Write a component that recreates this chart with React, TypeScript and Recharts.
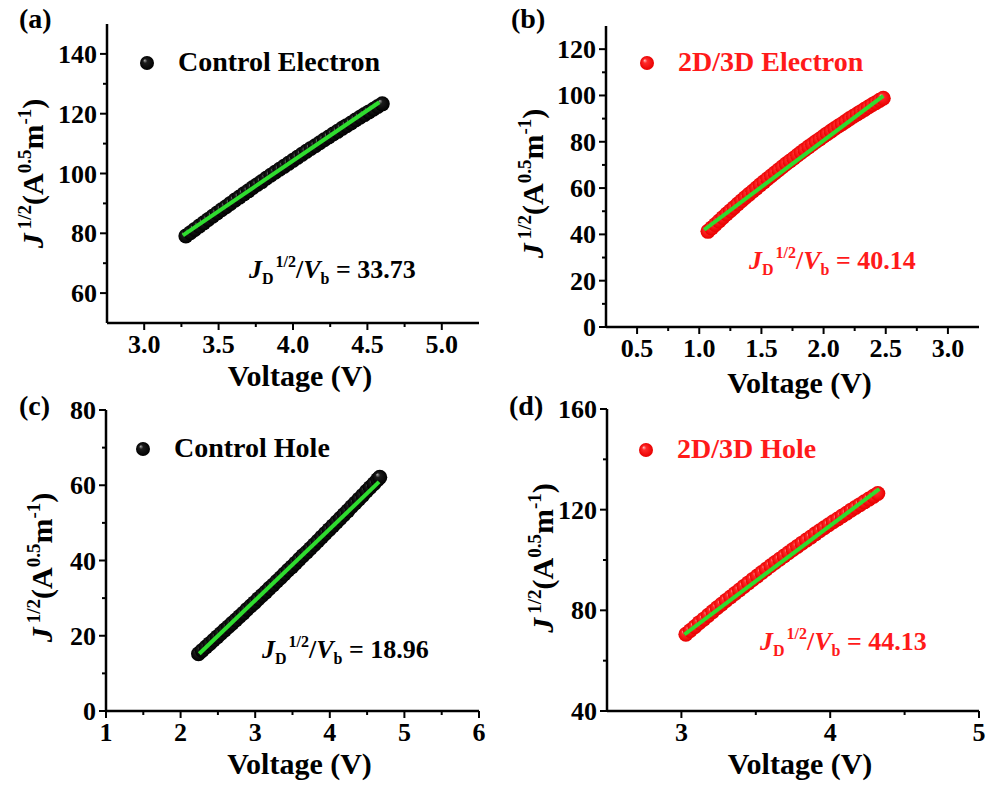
import React from "react";
import { ScatterChart, Scatter, XAxis, YAxis } from "recharts";

const SERIF = '"Liberation Serif", "Times New Roman", serif';
const GREEN = "#2fdc2f";
const RED = "#ff1a1a";
const AXIS = { stroke: "#000", strokeWidth: 2.5 };

// (a) control, electron-only device
const voltA = [3.28, 3.31, 3.34, 3.37, 3.4, 3.43, 3.46, 3.49, 3.52, 3.55, 3.58, 3.61, 3.64, 3.67, 3.7, 3.73, 3.76, 3.79, 3.82, 3.85, 3.88, 3.91, 3.94, 3.97, 4.0, 4.03, 4.06, 4.09, 4.12, 4.15, 4.18, 4.21, 4.24, 4.27, 4.3, 4.33, 4.36, 4.39, 4.42, 4.45, 4.48, 4.51, 4.54, 4.57, 4.6];
const jA = [79.1, 80.2, 81.3, 82.4, 83.5, 84.6, 85.7, 86.8, 87.9, 88.9, 90.0, 91.1, 92.1, 93.2, 94.2, 95.3, 96.3, 97.3, 98.4, 99.4, 100.4, 101.4, 102.4, 103.4, 104.4, 105.4, 106.4, 107.4, 108.4, 109.3, 110.3, 111.3, 112.2, 113.2, 114.1, 115.1, 116.0, 116.9, 117.9, 118.8, 119.7, 120.6, 121.5, 122.4, 123.3];

// (b) 2D/3D, electron-only device
const voltB = [1.07, 1.1, 1.13, 1.16, 1.19, 1.22, 1.25, 1.28, 1.31, 1.34, 1.37, 1.4, 1.43, 1.46, 1.49, 1.52, 1.55, 1.58, 1.61, 1.64, 1.67, 1.7, 1.73, 1.76, 1.79, 1.82, 1.85, 1.88, 1.91, 1.94, 1.97, 2.0, 2.03, 2.06, 2.09, 2.12, 2.15, 2.18, 2.21, 2.24, 2.27, 2.3, 2.33, 2.36, 2.39, 2.42, 2.45, 2.48];
const jB = [41.3, 42.8, 44.3, 45.8, 47.3, 48.8, 50.2, 51.6, 53.1, 54.5, 55.9, 57.3, 58.6, 60.0, 61.4, 62.7, 64.0, 65.3, 66.6, 67.9, 69.2, 70.5, 71.7, 72.9, 74.2, 75.4, 76.6, 77.8, 78.9, 80.1, 81.2, 82.4, 83.5, 84.6, 85.7, 86.8, 87.8, 88.9, 90.0, 91.0, 92.0, 93.0, 94.0, 95.0, 96.0, 96.9, 97.9, 98.8];

// (c) control, hole-only device
const voltC = [2.24, 2.29, 2.34, 2.39, 2.44, 2.49, 2.54, 2.59, 2.64, 2.69, 2.74, 2.79, 2.84, 2.89, 2.94, 2.99, 3.04, 3.09, 3.14, 3.19, 3.24, 3.29, 3.34, 3.39, 3.44, 3.49, 3.54, 3.59, 3.64, 3.69, 3.74, 3.79, 3.84, 3.89, 3.94, 3.99, 4.04, 4.09, 4.14, 4.19, 4.24, 4.29, 4.34, 4.39, 4.44, 4.49, 4.54, 4.59, 4.64, 4.67];
const jC = [15.2, 16.1, 17.0, 17.9, 18.8, 19.7, 20.6, 21.5, 22.4, 23.3, 24.2, 25.1, 26.0, 27.0, 27.9, 28.8, 29.8, 30.7, 31.6, 32.6, 33.5, 34.5, 35.4, 36.4, 37.4, 38.3, 39.3, 40.3, 41.3, 42.2, 43.2, 44.2, 45.2, 46.2, 47.2, 48.2, 49.2, 50.2, 51.2, 52.2, 53.2, 54.3, 55.3, 56.3, 57.3, 58.4, 59.4, 60.4, 61.5, 62.1];

// (d) 2D/3D, hole-only device
const voltD = [3.03, 3.06, 3.09, 3.12, 3.15, 3.18, 3.21, 3.24, 3.27, 3.3, 3.33, 3.36, 3.39, 3.42, 3.45, 3.48, 3.51, 3.54, 3.57, 3.6, 3.63, 3.66, 3.69, 3.72, 3.75, 3.78, 3.81, 3.84, 3.87, 3.9, 3.93, 3.96, 3.99, 4.02, 4.05, 4.08, 4.11, 4.14, 4.17, 4.2, 4.23, 4.26, 4.29, 4.32];
const jD = [70.5, 72.0, 73.5, 75.1, 76.5, 78.0, 79.5, 81.0, 82.4, 83.9, 85.3, 86.7, 88.1, 89.5, 90.9, 92.3, 93.6, 95.0, 96.3, 97.7, 99.0, 100.3, 101.6, 102.9, 104.2, 105.4, 106.7, 107.9, 109.1, 110.4, 111.6, 112.8, 114.0, 115.2, 116.3, 117.5, 118.6, 119.8, 120.9, 122.0, 123.1, 124.2, 125.3, 126.4];

// linear fits: [start V, start J, end V, slope]
const fitA = [3.26, 79.3, 4.58, 33.73];
const fitB = [1.04, 42.0, 2.48, 40.14];
const fitC = [2.25, 15.2, 4.66, 18.96];
const fitD = [3.02, 70.4, 4.33, 44.13];

type Pt = { v: number; j: number };
const zip = (v: number[], j: number[]): Pt[] => v.map((x, i) => ({ v: x, j: j[i] }));
const fitLine = ([v0, j0, v1, k]: number[]): Pt[] => [
  { v: v0, j: j0 },
  { v: v1, j: j0 + k * (v1 - v0) },
];

type Panel = {
  tag: string;
  name: string;
  red: boolean;
  box: [number, number, number, number];
  xDomain: [number, number];
  yDomain: [number, number];
  xMajor: number[];
  xMinor: number[];
  yMajor: number[];
  yMinor: number[];
  xDigits: number;
  data: Pt[];
  fit: Pt[];
  slope: number;
  tagAt: [number, number];
  legendAt: [number, number];
  noteAt: [number, number];
  yTitle: [number, number];
  xTitleDy: number;
};

const panels: Panel[] = [
  {
    tag: "a", name: "Control Electron", red: false,
    box: [107, 24, 479, 323], xDomain: [2.75, 5.25], yDomain: [50, 150],
    xMajor: [3, 3.5, 4, 4.5, 5], xMinor: [3.25, 3.75, 4.25, 4.75],
    yMajor: [60, 80, 100, 120, 140], yMinor: [70, 90, 110, 130], xDigits: 1,
    data: zip(voltA, jA), fit: fitLine(fitA), slope: fitA[3],
    tagAt: [19, 28], legendAt: [147, 63], noteAt: [249, 278], yTitle: [-64, 0], xTitleDy: 63,
  },
  {
    tag: "b", name: "2D/3D Electron", red: true,
    box: [606, 26, 979, 327], xDomain: [0.25, 3.25], yDomain: [0, 130],
    xMajor: [0.5, 1, 1.5, 2, 2.5, 3], xMinor: [0.75, 1.25, 1.75, 2.25, 2.75],
    yMajor: [0, 20, 40, 60, 80, 100, 120], yMinor: [10, 30, 50, 70, 90, 110], xDigits: 1,
    data: zip(voltB, jB), fit: fitLine(fitB), slope: fitB[3],
    tagAt: [511, 28], legendAt: [647, 63], noteAt: [749, 269], yTitle: [-63, 7], xTitleDy: 66,
  },
  {
    tag: "c", name: "Control Hole", red: false,
    box: [106, 410, 479, 711], xDomain: [1, 6], yDomain: [0, 80],
    xMajor: [1, 2, 3, 4, 5, 6], xMinor: [1.5, 2.5, 3.5, 4.5, 5.5],
    yMajor: [0, 20, 40, 60, 80], yMinor: [10, 30, 50, 70], xDigits: 0,
    data: zip(voltC, jC), fit: fitLine(fitC), slope: fitC[3],
    tagAt: [19, 415], legendAt: [143, 449], noteAt: [262, 658], yTitle: [-54, 7], xTitleDy: 63,
  },
  {
    tag: "d", name: "2D/3D Hole", red: true,
    box: [607, 409, 979, 711], xDomain: [2.5, 5], yDomain: [40, 160],
    xMajor: [3, 4, 5], xMinor: [3.5, 4.5],
    yMajor: [40, 80, 120, 160], yMinor: [60, 100, 140], xDigits: 0,
    data: zip(voltD, jD), fit: fitLine(fitD), slope: fitD[3],
    tagAt: [509, 415], legendAt: [646, 450], noteAt: [760, 650], yTitle: [-54, -2], xTitleDy: 63,
  },
];

function BallGradient({ id, red }: { id: string; red: boolean }) {
  return (
    <radialGradient id={id} cx="0.5" cy="0.5" r="0.5" fx="0.32" fy="0.3">
      <stop offset="0%" stopColor={red ? "#ffc8c8" : "#b0b0b0"} />
      <stop offset="30%" stopColor={red ? "#ff2a2a" : "#1c1c1c"} />
      <stop offset="100%" stopColor={red ? "#e80000" : "#000"} />
    </radialGradient>
  );
}

function Chart({ p }: { p: Panel }) {
  const [l, t, r, b] = p.box;
  const ML = 100, MT = 24, MR = 8, MB = 80, YW = 60, XH = 40;
  const gid = `ball-${p.tag}`;
  const xTicks = [...p.xMajor, ...p.xMinor].sort((u, w) => u - w);
  const yTicks = [...p.yMajor, ...p.yMinor].sort((u, w) => u - w);

  const xTick = (props: any) => {
    const { x, y, payload } = props;
    const major = p.xMajor.includes(payload.value);
    return (
      <g>
        <line x1={x} x2={x} y1={y} y2={y + (major ? 7 : 4)} stroke="#000" strokeWidth={2} />
        {major && (
          <text x={x} y={y + 30} textAnchor="middle" fontFamily={SERIF} fontWeight="bold" fontSize={26} fill="#000">
            {payload.value.toFixed(p.xDigits)}
          </text>
        )}
      </g>
    );
  };

  const yTick = (props: any) => {
    const { x, y, payload } = props;
    const major = p.yMajor.includes(payload.value);
    return (
      <g>
        <line x1={x} x2={x - (major ? 7 : 4)} y1={y} y2={y} stroke="#000" strokeWidth={2} />
        {major && (
          <text x={x - 10} y={y + 9} textAnchor="end" fontFamily={SERIF} fontWeight="bold" fontSize={26} fill="#000">
            {payload.value}
          </text>
        )}
      </g>
    );
  };

  const xTitle = (props: any) => {
    const vb = props.viewBox;
    return (
      <text x={vb.x + vb.width / 2 + 7} y={vb.y + p.xTitleDy} textAnchor="middle" fontFamily={SERIF} fontWeight="bold" fontSize={30} fill="#000">
        Voltage (V)
      </text>
    );
  };

  const yTitle = (props: any) => {
    const vb = props.viewBox;
    const x = vb.x + vb.width + p.yTitle[0];
    const y = vb.y + vb.height / 2 + p.yTitle[1];
    return (
      <text transform={`rotate(-90 ${x} ${y})`} x={x} y={y} textAnchor="middle" fontFamily={SERIF} fontWeight="bold" fontSize={30} fill="#000">
        <tspan fontStyle="italic">J</tspan>
        <tspan fontSize={19} dx={4} dy={-12}>1/2</tspan>
        <tspan dy={12}>(A</tspan>
        <tspan fontSize={19} dy={-12}>0.5</tspan>
        <tspan dy={12}>m</tspan>
        <tspan fontSize={19} dy={-12}>-1</tspan>
        <tspan dy={12}>)</tspan>
      </text>
    );
  };

  return (
    <div style={{ position: "absolute", left: l - ML, top: t - MT }}>
      <ScatterChart
        width={r - l + ML + MR}
        height={b - t + MT + MB}
        margin={{ top: MT, right: MR, left: ML - YW, bottom: MB - XH }}
      >
        <defs>
          <BallGradient id={gid} red={p.red} />
        </defs>
        <XAxis
          type="number" dataKey="v" domain={p.xDomain} ticks={xTicks} interval={0}
          tickSize={0} tickMargin={0} tickLine={false} axisLine={AXIS} tick={xTick}
          height={XH} allowDataOverflow label={{ content: xTitle }}
        />
        <YAxis
          type="number" dataKey="j" domain={p.yDomain} ticks={yTicks} interval={0}
          tickSize={0} tickMargin={0} tickLine={false} axisLine={AXIS} tick={yTick}
          width={YW} allowDataOverflow label={{ content: yTitle }}
        />
        <XAxis xAxisId="top" orientation="top" type="number" domain={p.xDomain} height={0} tick={false} tickLine={false} axisLine={AXIS} />
        <YAxis yAxisId="right" orientation="right" type="number" domain={p.yDomain} width={0} tick={false} tickLine={false} axisLine={AXIS} />
        <Scatter
          data={p.data}
          isAnimationActive={false}
          shape={(s: any) => <circle cx={s.cx} cy={s.cy} r={7.5} fill={`url(#${gid})`} />}
        />
        <Scatter
          data={p.fit}
          isAnimationActive={false}
          line={{ stroke: GREEN, strokeWidth: 4 }}
          shape={() => <g />}
        />
      </ScatterChart>
    </div>
  );
}

function Annotations() {
  return (
    <svg width={989} height={787} style={{ position: "absolute", left: 0, top: 0, pointerEvents: "none" }}>
      <defs>
        <BallGradient id="legend-black" red={false} />
        <BallGradient id="legend-red" red />
      </defs>
      {panels.map((p) => {
        const color = p.red ? RED : "#000";
        return (
          <g key={p.tag} fontFamily={SERIF} fontWeight="bold">
            <text x={p.tagAt[0]} y={p.tagAt[1]} fontSize={28} fill="#000">({p.tag})</text>
            <circle cx={p.legendAt[0]} cy={p.legendAt[1]} r={7} fill={`url(#legend-${p.red ? "red" : "black"})`} />
            <text x={p.legendAt[0] + 31} y={p.legendAt[1] + 8} fontSize={28} fill={color}>{p.name}</text>
            <text x={p.noteAt[0]} y={p.noteAt[1]} fontSize={26} fill={color}>
              <tspan fontStyle="italic">J</tspan>
              <tspan fontSize={16} dy={6}>D</tspan>
              <tspan fontSize={16} dx={2} dy={-17}>1/2</tspan>
              <tspan dy={11}>/</tspan>
              <tspan fontStyle="italic">V</tspan>
              <tspan fontSize={16} dy={6}>b</tspan>
              <tspan dy={-6}>{` = ${p.slope.toFixed(2)}`}</tspan>
            </text>
          </g>
        );
      })}
    </svg>
  );
}

export default function App() {
  return (
    <div style={{ position: "absolute", left: 0, top: 0, width: 989, height: 787, background: "#fff", overflow: "hidden" }}>
      {panels.map((p) => (
        <Chart key={p.tag} p={p} />
      ))}
      <Annotations />
    </div>
  );
}
